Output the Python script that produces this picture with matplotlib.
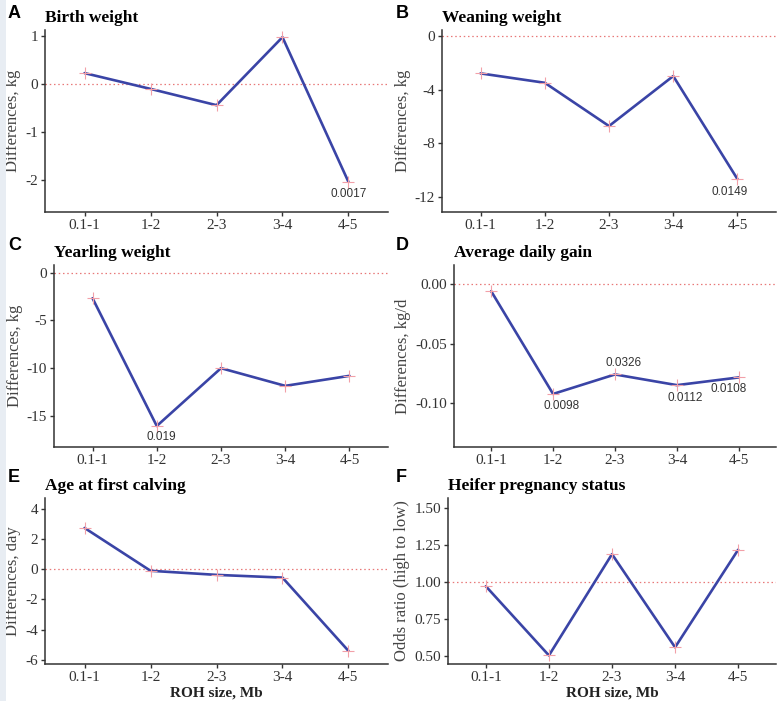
import matplotlib
matplotlib.use("Agg")
import matplotlib.pyplot as plt
from matplotlib.patches import Rectangle

categories = ['0.1-1', '1-2', '2-3', '3-4', '4-5']

birth_weight = [0.23, -0.10, -0.44, 0.98, -2.04]
weaning_weight = [-2.78, -3.48, -6.70, -2.98, -10.65]
yearling_weight = [-2.68, -16.05, -10.0, -11.85, -10.8]
avg_daily_gain = [-0.006, -0.0924, -0.076, -0.085, -0.0785]
age_first_calving = [2.72, -0.11, -0.38, -0.56, -5.4]
heifer_pregnancy = [0.973, 0.505, 1.19, 0.56, 1.22]

birth_labels = [None, None, None, None, '0.0017']
weaning_labels = [None, None, None, None, '0.0149']
yearling_labels = [None, '0.019', None, None, None]
adg_labels = [None, '0.0098', '0.0326', '0.0112', '0.0108']
afc_labels = [None, None, None, None, None]
hps_labels = [None, None, None, None, None]

titles = ['Birth weight', 'Weaning weight', 'Yearling weight',
          'Average daily gain', 'Age at first calving', 'Heifer pregnancy status']
letters = ['A', 'B', 'C', 'D', 'E', 'F']
ylabels = ['Differences, kg', 'Differences, kg', 'Differences, kg',
           'Differences, kg/d', 'Differences, day', 'Odds ratio (high to low)']
yticks = [[-2, -1, 0, 1], [-12, -8, -4, 0], [-15, -10, -5, 0],
          [-0.10, -0.05, 0.00], [-6, -4, -2, 0, 2, 4], [0.50, 0.75, 1.00, 1.25, 1.50]]
ytick_labels = [['-2', '-1', '0', '1'], ['-12', '-8', '-4', '0'], ['-15', '-10', '-5', '0'],
                ['-0.10', '-0.05', '0.00'], ['-6', '-4', '-2', '0', '2', '4'],
                ['0.50', '0.75', '1.00', '1.25', '1.50']]
ref_lines = [0, 0, 0, 0, 0, 1]

series = [birth_weight, weaning_weight, yearling_weight, avg_daily_gain,
          age_first_calving, heifer_pregnancy]
labels = [birth_labels, weaning_labels, yearling_labels, adg_labels, afc_labels, hps_labels]

W, H = 778, 701
fig = plt.figure(figsize=(W / 100, H / 100), dpi=100)
fig.patch.set_facecolor('white')
fig.add_artist(Rectangle((0, 0), 6 / W, 1, transform=fig.transFigure,
                         facecolor='#e8edf3', edgecolor='none'))

# (left, right, top, bottom) in pixels
boxes = [(45, 388, 30, 212), (442, 776, 30, 212),
         (54, 388, 265, 447), (454, 776, 265, 447),
         (45, 388, 498, 664), (448, 776, 498, 664)]
ylims = [(-2.67, 1.13), (-13.1, 0.45), (-18.25, 0.8), (-0.137, 0.016),
         (-6.27, 4.7), (0.447, 1.57)]
# label offsets (points) per panel / point
offsets = [
    [None, None, None, None, (0, -9)],
    [None, None, None, None, (-6, -9)],
    [None, (3, -8), None, None, None],
    [None, (6, -9), (6, 8), (6, -9), (-7, -8)],
    [None] * 5,
    [None] * 5,
]

serif = 'Liberation Serif'
sans = 'Liberation Sans'
x = list(range(len(categories)))

for i in range(6):
    l, r, t, b = boxes[i]
    ax = fig.add_axes([l / W, 1 - b / H, (r - l) / W, (b - t) / H])
    ax.set_facecolor('white')
    ax.axhline(ref_lines[i], color='#e87878', linestyle=(0, (1.2, 2.2)), lw=0.9, zorder=1)
    ax.plot(x, series[i], color='#3a44a6', lw=1.9, zorder=2, solid_capstyle='round')
    ax.plot(x, series[i], linestyle='none', marker='+', markersize=8,
            markeredgewidth=0.8, color='#f2a0a8', zorder=3)
    for j, lab in enumerate(labels[i]):
        if lab is not None:
            dx, dy = offsets[i][j]
            ax.annotate(lab, (x[j], series[i][j]), xytext=(dx, dy),
                        textcoords='offset points', ha='center', va='center',
                        fontsize=8.5, family=sans, color='#333333')
    ax.set_xlim(-0.6, 4.6)
    ax.set_ylim(*ylims[i])
    ax.set_xticks(x)
    ax.set_xticklabels(categories, family=serif, fontsize=11, color='#333333')
    ax.set_yticks(yticks[i])
    ax.set_yticklabels(ytick_labels[i], family=serif, fontsize=11, color='#333333')
    for s in ['top', 'right']:
        ax.spines[s].set_visible(False)
    for s in ['left', 'bottom']:
        ax.spines[s].set_color('#333333')
        ax.spines[s].set_linewidth(1.1)
    ax.tick_params(axis='both', length=3, width=1.0, color='#333333', pad=2)
    ax.set_ylabel(ylabels[i], family=serif, fontsize=12, color='#444444', labelpad=3)
    ax.set_title(titles[i], loc='left', family=serif, fontweight='bold', fontsize=12.5,
                 color='black', pad=6)
    if i >= 4:
        ax.set_xlabel('ROH size, Mb', family=serif, fontweight='bold', fontsize=11,
                      color='#222222', labelpad=2)
    # panel letter
    lx = 8 if i % 2 == 0 else 396
    ly = [14, 14, 246, 246, 478, 478][i]
    fig.text(lx / W, 1 - ly / H, letters[i], family=sans, fontweight='bold',
             fontsize=13, ha='left', va='center', color='black')

fig.savefig('out.png', dpi=100)
